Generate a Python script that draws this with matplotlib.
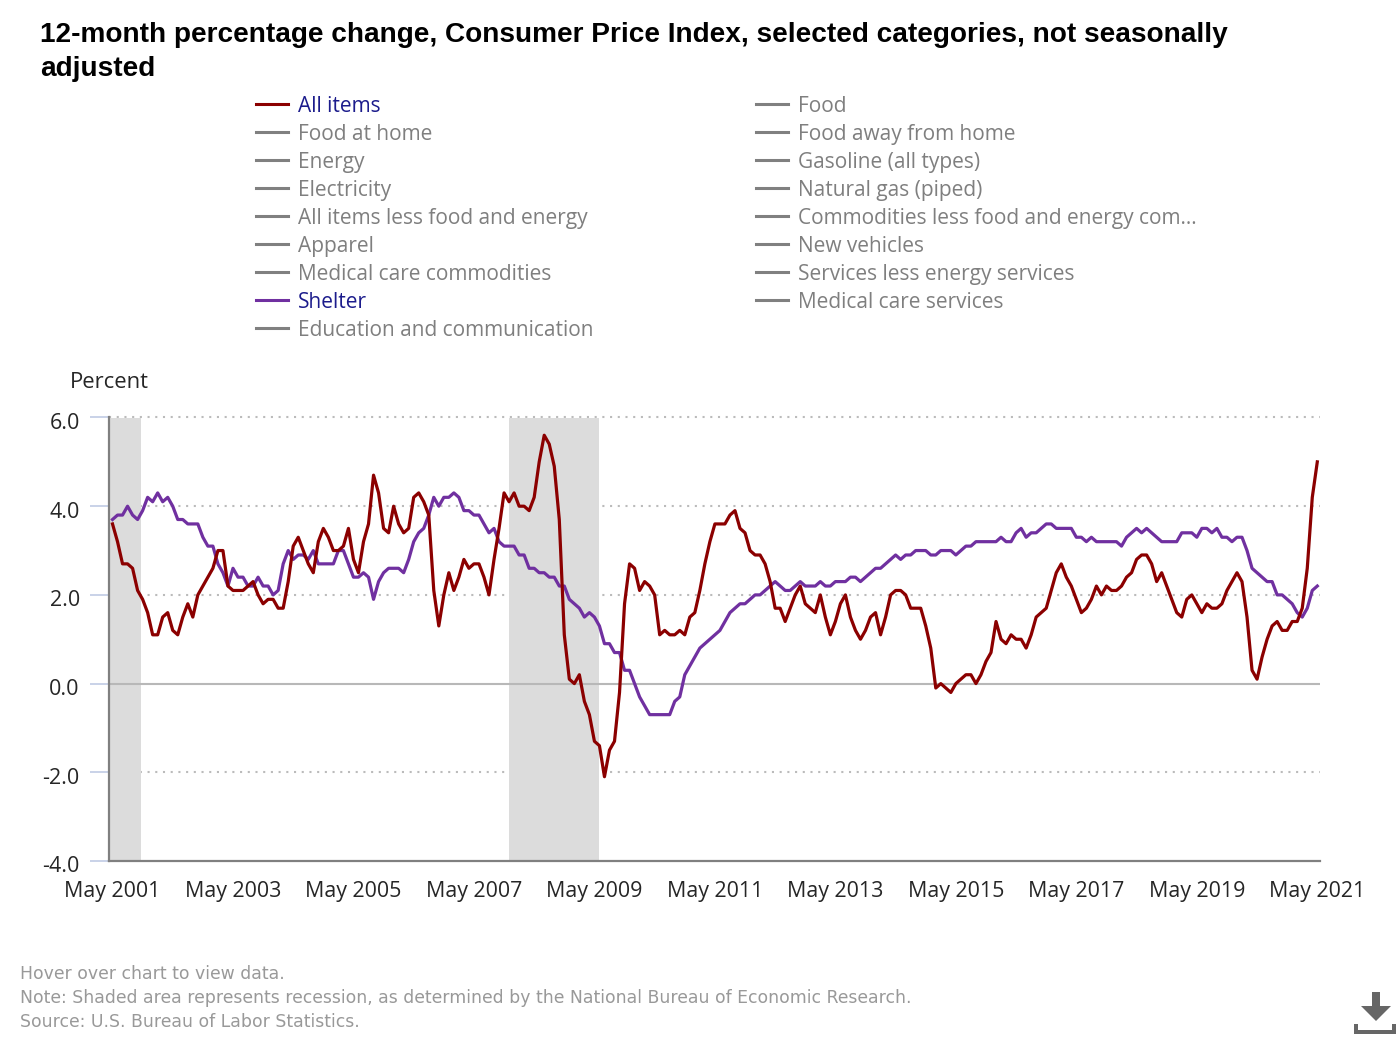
import matplotlib
matplotlib.use('Agg')
import matplotlib.pyplot as plt
from matplotlib.lines import Line2D
from matplotlib.patches import Polygon, Rectangle
from matplotlib.transforms import ScaledTranslation

W, H = 1400, 1040

TITLE = '12-month percentage change, Consumer Price Index, selected categories, not seasonally\nadjusted'
LEGEND_LEFT = ['All items', 'Food at home', 'Energy', 'Electricity', 'All items less food and energy',
               'Apparel', 'Medical care commodities', 'Shelter', 'Education and communication']
LEGEND_RIGHT = ['Food', 'Food away from home', 'Gasoline (all types)', 'Natural gas (piped)',
                'Commodities less food and energy com...', 'New vehicles', 'Services less energy services',
                'Medical care services']
FOOTER = ['Hover over chart to view data.',
          'Note: Shaded area represents recession, as determined by the National Bureau of Economic Research.',
          'Source: U.S. Bureau of Labor Statistics.']

Y_TICKS = [6, 4, 2, 0, -2, -4]
X_TICKS = [0, 24, 48, 72, 96, 120, 144, 168, 192, 216, 240]
X_LABELS = ['May 2001', 'May 2003', 'May 2005', 'May 2007', 'May 2009', 'May 2011',
            'May 2013', 'May 2015', 'May 2017', 'May 2019', 'May 2021']

# month index counted from May 2001
RECESSIONS = [(-2, 5.7), (79, 97)]

# May 2001 to May 2021, one row per calendar year
ALL_ITEMS = [
    3.6, 3.2, 2.7, 2.7, 2.6, 2.1, 1.9, 1.6,
    1.1, 1.1, 1.5, 1.6, 1.2, 1.1, 1.5, 1.8, 1.5, 2.0, 2.2, 2.4,
    2.6, 3.0, 3.0, 2.2, 2.1, 2.1, 2.1, 2.2, 2.3, 2.0, 1.8, 1.9,
    1.9, 1.7, 1.7, 2.3, 3.1, 3.3, 3.0, 2.7, 2.5, 3.2, 3.5, 3.3,
    3.0, 3.0, 3.1, 3.5, 2.8, 2.5, 3.2, 3.6, 4.7, 4.3, 3.5, 3.4,
    4.0, 3.6, 3.4, 3.5, 4.2, 4.3, 4.1, 3.8, 2.1, 1.3, 2.0, 2.5,
    2.1, 2.4, 2.8, 2.6, 2.7, 2.7, 2.4, 2.0, 2.8, 3.5, 4.3, 4.1,
    4.3, 4.0, 4.0, 3.9, 4.2, 5.0, 5.6, 5.4, 4.9, 3.7, 1.1, 0.1,
    0.0, 0.2, -0.4, -0.7, -1.3, -1.4, -2.1, -1.5, -1.3, -0.2, 1.8, 2.7,
    2.6, 2.1, 2.3, 2.2, 2.0, 1.1, 1.2, 1.1, 1.1, 1.2, 1.1, 1.5,
    1.6, 2.1, 2.7, 3.2, 3.6, 3.6, 3.6, 3.8, 3.9, 3.5, 3.4, 3.0,
    2.9, 2.9, 2.7, 2.3, 1.7, 1.7, 1.4, 1.7, 2.0, 2.2, 1.8, 1.7,
    1.6, 2.0, 1.5, 1.1, 1.4, 1.8, 2.0, 1.5, 1.2, 1.0, 1.2, 1.5,
    1.6, 1.1, 1.5, 2.0, 2.1, 2.1, 2.0, 1.7, 1.7, 1.7, 1.3, 0.8,
    -0.1, 0.0, -0.1, -0.2, 0.0, 0.1, 0.2, 0.2, 0.0, 0.2, 0.5, 0.7,
    1.4, 1.0, 0.9, 1.1, 1.0, 1.0, 0.8, 1.1, 1.5, 1.6, 1.7, 2.1,
    2.5, 2.7, 2.4, 2.2, 1.9, 1.6, 1.7, 1.9, 2.2, 2.0, 2.2, 2.1,
    2.1, 2.2, 2.4, 2.5, 2.8, 2.9, 2.9, 2.7, 2.3, 2.5, 2.2, 1.9,
    1.6, 1.5, 1.9, 2.0, 1.8, 1.6, 1.8, 1.7, 1.7, 1.8, 2.1, 2.3,
    2.5, 2.3, 1.5, 0.3, 0.1, 0.6, 1.0, 1.3, 1.4, 1.2, 1.2, 1.4,
    1.4, 1.7, 2.6, 4.2, 5.0,
]
SHELTER = [
    3.7, 3.8, 3.8, 4.0, 3.8, 3.7, 3.9, 4.2,
    4.1, 4.3, 4.1, 4.2, 4.0, 3.7, 3.7, 3.6, 3.6, 3.6, 3.3, 3.1,
    3.1, 2.7, 2.5, 2.2, 2.6, 2.4, 2.4, 2.2, 2.2, 2.4, 2.2, 2.2,
    2.0, 2.1, 2.7, 3.0, 2.8, 2.9, 2.9, 2.8, 3.0, 2.7, 2.7, 2.7,
    2.7, 3.0, 3.0, 2.7, 2.4, 2.4, 2.5, 2.4, 1.9, 2.3, 2.5, 2.6,
    2.6, 2.6, 2.5, 2.8, 3.2, 3.4, 3.5, 3.8, 4.2, 4.0, 4.2, 4.2,
    4.3, 4.2, 3.9, 3.9, 3.8, 3.8, 3.6, 3.4, 3.5, 3.2, 3.1, 3.1,
    3.1, 2.9, 2.9, 2.6, 2.6, 2.5, 2.5, 2.4, 2.4, 2.2, 2.2, 1.9,
    1.8, 1.7, 1.5, 1.6, 1.5, 1.3, 0.9, 0.9, 0.7, 0.7, 0.3, 0.3,
    0.0, -0.3, -0.5, -0.7, -0.7, -0.7, -0.7, -0.7, -0.4, -0.3, 0.2, 0.4,
    0.6, 0.8, 0.9, 1.0, 1.1, 1.2, 1.4, 1.6, 1.7, 1.8, 1.8, 1.9,
    2.0, 2.0, 2.1, 2.2, 2.3, 2.2, 2.1, 2.1, 2.2, 2.3, 2.2, 2.2,
    2.2, 2.3, 2.2, 2.2, 2.3, 2.3, 2.3, 2.4, 2.4, 2.3, 2.4, 2.5,
    2.6, 2.6, 2.7, 2.8, 2.9, 2.8, 2.9, 2.9, 3.0, 3.0, 3.0, 2.9,
    2.9, 3.0, 3.0, 3.0, 2.9, 3.0, 3.1, 3.1, 3.2, 3.2, 3.2, 3.2,
    3.2, 3.3, 3.2, 3.2, 3.4, 3.5, 3.3, 3.4, 3.4, 3.5, 3.6, 3.6,
    3.5, 3.5, 3.5, 3.5, 3.3, 3.3, 3.2, 3.3, 3.2, 3.2, 3.2, 3.2,
    3.2, 3.1, 3.3, 3.4, 3.5, 3.4, 3.5, 3.4, 3.3, 3.2, 3.2, 3.2,
    3.2, 3.4, 3.4, 3.4, 3.3, 3.5, 3.5, 3.4, 3.5, 3.3, 3.3, 3.2,
    3.3, 3.3, 3.0, 2.6, 2.5, 2.4, 2.3, 2.3, 2.0, 2.0, 1.9, 1.8,
    1.6, 1.5, 1.7, 2.1, 2.2,
]

RED = '#8b0000'
PURPLE = '#7030a0'
GRAY_LINE = '#808080'
NAVY = '#1c1c8c'
GRAY_TEXT = '#7f7f7f'
TICK_TEXT = '#262626'


def fx(x):
    return x / W


def fy(y):
    return 1 - y / H


plt.rcParams['font.family'] = ['Open Sans', 'DejaVu Sans']
fig = plt.figure(figsize=(W / 100, H / 100), dpi=100, facecolor='white')

# axes box in pixels: left 109, right 1320, y=6 at 417.5, y=-4 at 861
ax = fig.add_axes([fx(109), fy(861), (1320 - 109) / W, (861 - 417.5) / H])
ax.set_ylim(-4, 6)
ax.set_xlim((109 - 112.5) / 5.02, (1320 - 112.5) / 5.02)

for v in Y_TICKS:
    if v in (0, -4):
        continue
    ax.axhline(v, color='#bbbbbb', lw=1.5, ls=(0, (1.0, 2.7)), zorder=1, clip_on=False)

for start, end in RECESSIONS:
    ax.axvspan(start, end, color='#dcdcdc', lw=0, zorder=2)
ax.axhline(0, color='#b8b8b8', lw=1.5, zorder=2.5)

ax.set_yticks(Y_TICKS)
ax.set_yticklabels(['%.1f' % v for v in Y_TICKS])
ax.set_xticks(X_TICKS)
ax.set_xticklabels(X_LABELS)

ax.plot(range(len(SHELTER)), SHELTER, color=PURPLE, lw=2.3, zorder=3, solid_joinstyle='round')
ax.plot(range(len(ALL_ITEMS)), ALL_ITEMS, color=RED, lw=2.3, zorder=4, solid_joinstyle='round')

for side in ('top', 'right'):
    ax.spines[side].set_visible(False)
for side in ('left', 'bottom'):
    ax.spines[side].set_color('#808080')
    ax.spines[side].set_linewidth(1.6)
ax.tick_params(axis='y', length=14, width=1.2, color='#c0cbe4', labelsize=15.5, labelcolor=TICK_TEXT, pad=7)
ax.tick_params(axis='x', length=0, labelsize=15.4, labelcolor=TICK_TEXT, pad=14.7)

# labels sit a little below their grid lines
shift = ScaledTranslation(0, -3.5 / 100, fig.dpi_scale_trans)
for label in ax.get_yticklabels():
    label.set_transform(label.get_transform() + shift)

fig.text(fx(40), fy(52), TITLE, family='Liberation Sans', fontweight='bold', fontsize=20.15, color='black',
         va='center', ha='left', linespacing=1.38)


def legend_row(x, y, label, color, text_color):
    fig.add_artist(Line2D([fx(x), fx(x + 32)], [fy(y), fy(y)], color=color, lw=2.2))
    fig.text(fx(x + 42), fy(y + 2.4), label, fontsize=15, color=text_color, va='center', ha='left')


for i, label in enumerate(LEGEND_LEFT):
    if label == 'All items':
        legend_row(256, 104 + 28 * i, label, RED, NAVY)
    elif label == 'Shelter':
        legend_row(256, 104 + 28 * i, label, PURPLE, NAVY)
    else:
        legend_row(256, 104 + 28 * i, label, GRAY_LINE, GRAY_TEXT)
for i, label in enumerate(LEGEND_RIGHT):
    legend_row(756, 104 + 28 * i, label, GRAY_LINE, GRAY_TEXT)

fig.text(fx(70), fy(382), 'Percent', fontsize=15.8, color=TICK_TEXT, va='center', ha='left')

for i, line in enumerate(FOOTER):
    fig.text(fx(20), fy(974 + 24 * i), line, family='DejaVu Sans', fontsize=12.4, color='#999999',
             va='center', ha='left')

# download icon
ICON = '#666666'
fig.add_artist(Rectangle((fx(1372), fy(1006)), 8 / W, 14 / H, color=ICON, lw=0))
fig.add_artist(Polygon([(fx(1361), fy(1006)), (fx(1391), fy(1006)), (fx(1376), fy(1021))], color=ICON, lw=0))
fig.add_artist(Rectangle((fx(1354), fy(1034)), 42 / W, 4 / H, color=ICON, lw=0))
fig.add_artist(Rectangle((fx(1354), fy(1034)), 4 / W, 10 / H, color=ICON, lw=0))
fig.add_artist(Rectangle((fx(1392), fy(1034)), 4 / W, 10 / H, color=ICON, lw=0))

fig.savefig('out.png', dpi=100)
